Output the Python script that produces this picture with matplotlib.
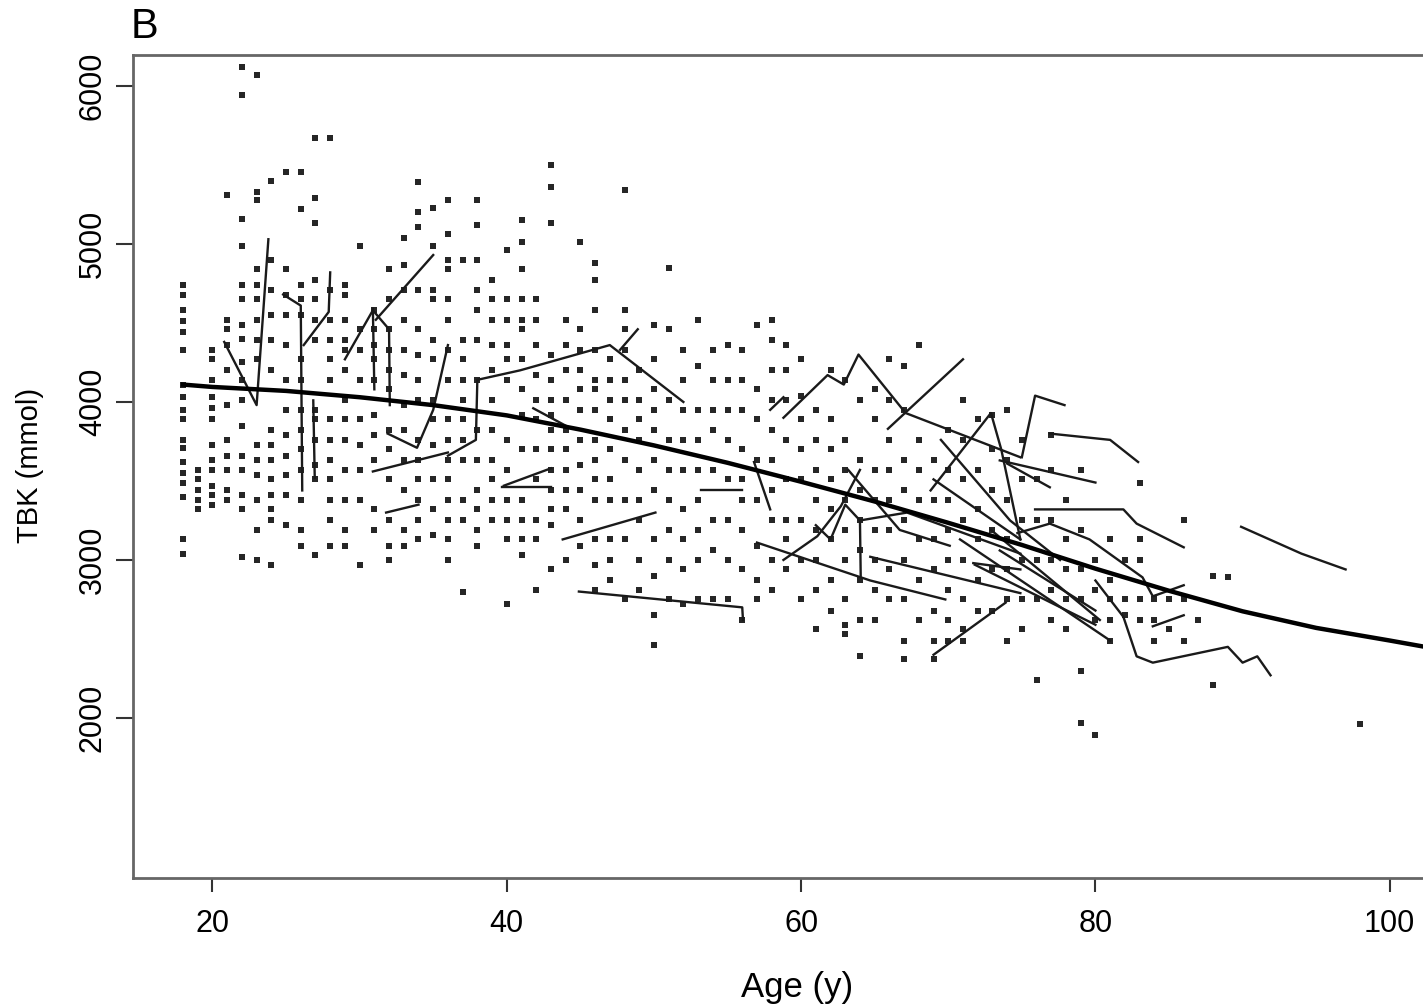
import matplotlib
matplotlib.use("Agg")
import matplotlib.pyplot as plt

plt.rcParams['font.family'] = ['Liberation Sans', 'DejaVu Sans']

# ---- scatter data: age (years) and TBK (mmol), grouped by age column ----
scatter_ages = [18, 19, 20, 21, 22, 23, 24, 25, 26, 27, 28, 29, 30, 31, 32, 33, 34, 35, 36, 37, 38, 39,
                40, 41, 42, 43, 44, 45, 46, 47, 48, 49, 50, 51, 52, 53, 54, 55, 56, 57, 58, 59,
                60, 61, 62, 63, 64, 65, 66, 67, 68, 69, 70, 71, 72, 73, 74, 75, 76, 77, 78, 79,
                80, 81, 82, 83, 84, 85, 86, 87, 88, 89, 98]
scatter_tbk = [
    [4740, 4680, 4580, 4510, 4440, 4330, 4110, 4030, 3950, 3890, 3760, 3710, 3620, 3550, 3490, 3400, 3130, 3040],
    [3570, 3510, 3440, 3380, 3320],
    [4330, 4270, 4140, 4030, 3960, 3890, 3730, 3630, 3570, 3470, 3410, 3350],
    [5310, 4520, 4460, 4360, 4200, 3980, 3760, 3660, 3570, 3440, 3380],
    [6120, 5940, 5160, 4990, 4740, 4650, 4490, 4400, 4250, 4140, 4010, 3850, 3660, 3570, 3410, 3320, 3020],
    [6070, 5330, 5280, 4840, 4740, 4650, 4520, 4390, 4270, 3730, 3630, 3540, 3380, 3190, 3000],
    [5400, 4900, 4710, 4550, 4390, 4200, 3820, 3730, 3630, 3510, 3410, 3320, 3250, 2970],
    [5455, 4840, 4680, 4550, 4360, 4140, 3950, 3790, 3660, 3540, 3410, 3220],
    [5455, 5220, 4740, 4650, 4550, 4270, 4140, 3950, 3820, 3700, 3570, 3380, 3190, 3090],
    [5670, 5290, 5130, 4770, 4650, 4520, 4390, 3950, 3890, 3760, 3600, 3510, 3030],
    [5670, 4710, 4520, 4390, 4270, 4140, 3890, 3760, 3630, 3510, 3380, 3250, 3090],
    [4740, 4680, 4520, 4390, 4330, 4200, 4010, 3890, 3760, 3570, 3380, 3190, 3090],
    [4990, 4460, 4330, 4140, 3890, 3730, 3570, 3380, 2970],
    [4580, 4460, 4360, 4270, 4140, 3920, 3790, 3630, 3320, 3190],
    [4840, 4650, 4460, 4330, 4200, 4080, 3820, 3700, 3510, 3250, 3090, 3000],
    [5040, 4870, 4710, 4520, 4330, 4170, 3980, 3820, 3630, 3440, 3190, 3090],
    [5390, 5200, 5110, 4710, 4460, 4300, 4140, 4010, 3760, 3630, 3510, 3380, 3250, 3130],
    [5230, 4990, 4710, 4650, 4390, 4270, 4010, 3890, 3730, 3510, 3320, 3160],
    [5280, 5060, 4900, 4840, 4650, 4520, 4330, 4140, 3890, 3760, 3630, 3510, 3380, 3250, 3130, 3000],
    [4900, 4390, 4270, 4140, 4010, 3890, 3760, 3630, 3380, 3250, 2800],
    [5280, 5120, 4900, 4710, 4580, 4390, 4140, 3820, 3630, 3440, 3320, 3190, 3090],
    [4770, 4650, 4520, 4360, 4200, 4010, 3820, 3630, 3510, 3380, 3250],
    [4960, 4650, 4520, 4360, 4270, 4140, 3760, 3570, 3380, 3250, 3130, 2720],
    [5150, 5010, 4840, 4650, 4520, 4460, 4270, 4080, 3920, 3700, 3380, 3250, 3130, 3030],
    [4650, 4520, 4360, 4170, 4010, 3890, 3700, 3510, 3250, 3130, 2810],
    [5500, 5360, 5130, 4300, 4140, 4010, 3920, 3820, 3700, 3570, 3440, 3320, 3220, 2940],
    [4520, 4360, 4200, 4010, 3820, 3700, 3570, 3440, 3320, 3000],
    [5010, 4460, 4330, 4200, 4080, 3950, 3760, 3600, 3440, 3250, 3090],
    [4880, 4770, 4580, 4330, 4140, 4080, 3950, 3760, 3630, 3510, 3380, 3130, 2970, 2810],
    [4270, 4140, 4010, 3890, 3700, 3510, 3380, 3130, 3000, 2870],
    [5340, 4580, 4460, 4330, 4140, 4010, 3820, 3630, 3380, 3130, 2750],
    [4200, 4010, 3890, 3760, 3570, 3380, 3250, 3000, 2810],
    [4490, 4270, 4080, 3950, 3820, 3630, 3440, 3130, 2900, 2650, 2460],
    [4850, 4460, 4010, 3760, 3570, 3380, 3190, 3000, 2750],
    [4330, 4140, 3950, 3760, 3570, 3320, 3130, 2940, 2720],
    [4520, 4230, 3950, 3760, 3570, 3380, 3190, 3000, 2750],
    [4330, 4140, 3950, 3820, 3570, 3250, 3060, 2750],
    [4360, 4140, 3950, 3760, 3510, 3250, 3000, 2750],
    [4330, 4140, 3950, 3700, 3510, 3380, 3190, 2940, 2620],
    [4490, 4080, 3890, 3630, 3380, 3090, 2870, 2750],
    [4520, 4390, 4200, 4010, 3820, 3630, 3440, 3250, 3000, 2810],
    [4360, 4200, 4010, 3760, 3510, 3250, 3130, 2940],
    [4270, 4040, 3890, 3700, 3510, 3250, 3000, 2750],
    [3950, 3760, 3570, 3380, 3190, 3000, 2810, 2560],
    [4200, 3890, 3700, 3510, 3320, 3130, 2870, 2680],
    [4140, 3760, 3570, 3380, 3190, 3000, 2750, 2590, 2530],
    [4010, 3630, 3440, 3250, 3060, 2870, 2620, 2390],
    [4080, 3890, 3570, 3380, 3190, 3000, 2810, 2620],
    [4270, 4010, 3760, 3570, 3380, 3190, 2940, 2750],
    [4230, 3950, 3630, 3440, 3250, 3000, 2750, 2490, 2370],
    [4360, 3760, 3570, 3380, 3130, 2870, 2620],
    [3630, 3380, 3130, 2940, 2680, 2490, 2370],
    [3820, 3570, 3380, 3190, 3000, 2810, 2620, 2490],
    [4010, 3760, 3510, 3250, 3000, 2750, 2560, 2490],
    [3890, 3570, 3320, 3130, 2870, 2680],
    [3920, 3700, 3440, 3190, 2940, 2680],
    [3950, 3630, 3380, 3130, 2940, 2750, 2490],
    [3760, 3510, 3250, 3000, 2750, 2560],
    [3510, 3250, 3000, 2750, 2240],
    [3790, 3570, 3250, 3000, 2810, 2620],
    [3380, 3130, 2940, 2750, 2560],
    [3570, 3190, 2940, 2750, 2300, 1970],
    [3000, 2810, 2620, 1890],
    [3130, 2870, 2750, 2620, 2490],
    [3000, 2750, 2650],
    [3490, 3130, 3000, 2750, 2620],
    [2750, 2620, 2490],
    [2750, 2560],
    [3250, 2750, 2490],
    [2620],
    [2900, 2210],
    [2890],
    [1960],
]

# ---- individual longitudinal trajectories (age, TBK) ----
traj_ages = [
    [20.8, 23.0, 23.8],
    [24.8, 26.0, 26.1],
    [26.2, 27.9, 28.0],
    [26.85, 26.95],
    [29.0, 30.9, 32.0, 32.05],
    [30.9, 31.0],
    [31.1, 35.0],
    [30.9, 36.0],
    [31.9, 33.9, 35.0, 36.0],
    [36.0, 37.9, 38.0, 40.9, 47.0, 52.0],
    [31.8, 34.0],
    [41.8, 44.0],
    [39.8, 43.0],
    [39.7, 43.0],
    [43.8, 50.1],
    [44.9, 56.0, 56.05],
    [47.7, 48.9],
    [53.2, 56.0],
    [57.0, 64.7, 69.8],
    [57.9, 58.8],
    [58.8, 61.8, 62.9, 63.9, 67.1, 74.9],
    [65.9, 71.0],
    [75.0, 75.9, 77.9],
    [76.9, 81.0, 82.9],
    [73.5, 80.0],
    [74.0, 76.9],
    [75.9, 81.9, 82.8, 86.0],
    [74.7, 76.9, 79.6, 83.2, 83.9, 86.0],
    [80.0, 81.9, 82.8, 83.9, 89.0, 90.0, 91.0, 91.9],
    [83.9, 85.1, 86.0],
    [89.9, 94.0, 97.0],
    [69.0, 73.9],
    [56.8, 57.9],
    [58.8, 61.1, 62.7, 64.0],
    [61.0, 62.0, 63.0, 64.0, 64.05],
    [64.7, 74.9],
    [64.0, 67.2, 74.9],
    [69.0, 74.9],
    [71.7, 74.9],
    [68.8, 72.9, 73.6, 74.9],
    [70.8, 81.0],
    [71.8, 80.0],
    [72.9, 80.3],
    [73.5, 80.0],
    [69.5, 74.2, 77.6],
    [63.2, 66.7, 70.1],
]
traj_tbk = [
    [4380, 3980, 5030],
    [4680, 4610, 3440],
    [4360, 4570, 4820],
    [4010, 3520],
    [4270, 4580, 4460, 3980],
    [4590, 4080],
    [4520, 4930],
    [3560, 3680],
    [3800, 3710, 3950, 4360],
    [3660, 3760, 4140, 4200, 4360, 4000],
    [3300, 3350],
    [3960, 3850],
    [3470, 3580],
    [3460, 3460],
    [3130, 3300],
    [2800, 2700, 2620],
    [4330, 4460],
    [3440, 3440],
    [3110, 2870, 2750],
    [3950, 4030],
    [3900, 4170, 4110, 4300, 3930, 3650],
    [3830, 4270],
    [3650, 4040, 3980],
    [3800, 3760, 3620],
    [3630, 3490],
    [3610, 3460],
    [3320, 3320, 3230, 3080],
    [3170, 3230, 3130, 2890, 2770, 2840],
    [2870, 2640, 2390, 2350, 2450, 2350, 2390, 2270],
    [2580, 2620, 2650],
    [3210, 3040, 2940],
    [2400, 2730],
    [3620, 3320],
    [3000, 3150, 3340, 3570],
    [3220, 3130, 3350, 3250, 2900],
    [3020, 2790],
    [3250, 3300, 3040],
    [3510, 3130],
    [2980, 2940],
    [3440, 3930, 3700, 3130],
    [3130, 2490],
    [2970, 2590],
    [3190, 2620],
    [3060, 2680],
    [3760, 3250, 3000],
    [3570, 3190, 3090],
]

# ---- fitted population curve ----
curve_age = [18, 20, 25, 30, 35, 40, 45, 50, 55, 60, 65, 70, 75, 80, 85, 90, 95, 100, 103]
curve_tbk = [4110, 4095, 4070, 4030, 3980, 3915, 3825, 3725, 3615, 3495, 3370, 3235, 3095, 2945, 2805, 2675, 2570, 2490, 2440]

x_ticks = [20, 40, 60, 80, 100]
y_ticks = [2000, 3000, 4000, 5000, 6000]

W, H = 1423, 1007
fig = plt.figure(figsize=(W / 100, H / 100), dpi=100)
left, right, top, bottom = 133, 1428, 55, 878
ax = fig.add_axes([left / W, 1 - bottom / H, (right - left) / W, (bottom - top) / H])

xs, ys = [], []
for a, vals in zip(scatter_ages, scatter_tbk):
    for v in vals:
        xs.append(a)
        ys.append(v)
ax.scatter(xs, ys, s=13, marker='s', color='#262626', linewidths=0, zorder=2)

for ta, tv in zip(traj_ages, traj_tbk):
    ax.plot(ta, tv, color='#1a1a1a', linewidth=1.7, zorder=3)

ax.plot(curve_age, curve_tbk, color='black', linewidth=3.2, zorder=4)

ax.set_xlim(14.6, 102.6)
ax.set_ylim(987, 6196)
ax.set_xticks(x_ticks)
ax.set_yticks(y_ticks)
ax.set_xticklabels([str(t) for t in x_ticks], fontsize=22)
ax.set_yticklabels([str(t) for t in y_ticks], fontsize=22, rotation=90, va='center')
ax.tick_params(axis='x', direction='out', length=10, width=1.5, color='#333333', pad=12)
ax.tick_params(axis='y', direction='out', length=12, width=1.5, color='#333333', pad=6)
for sp in ax.spines.values():
    sp.set_color('#666666')
    sp.set_linewidth(2)

fig.text(797 / W, 1 - 988 / H, 'Age (y)', fontsize=25, ha='center', va='center')
fig.text(30 / W, 1 - 465 / H, 'TBK (mmol)', fontsize=21, ha='center', va='center', rotation=90)
fig.text(145 / W, 1 - 27 / H, 'B', fontsize=30, ha='center', va='center')

fig.savefig('out.png', dpi=100)
